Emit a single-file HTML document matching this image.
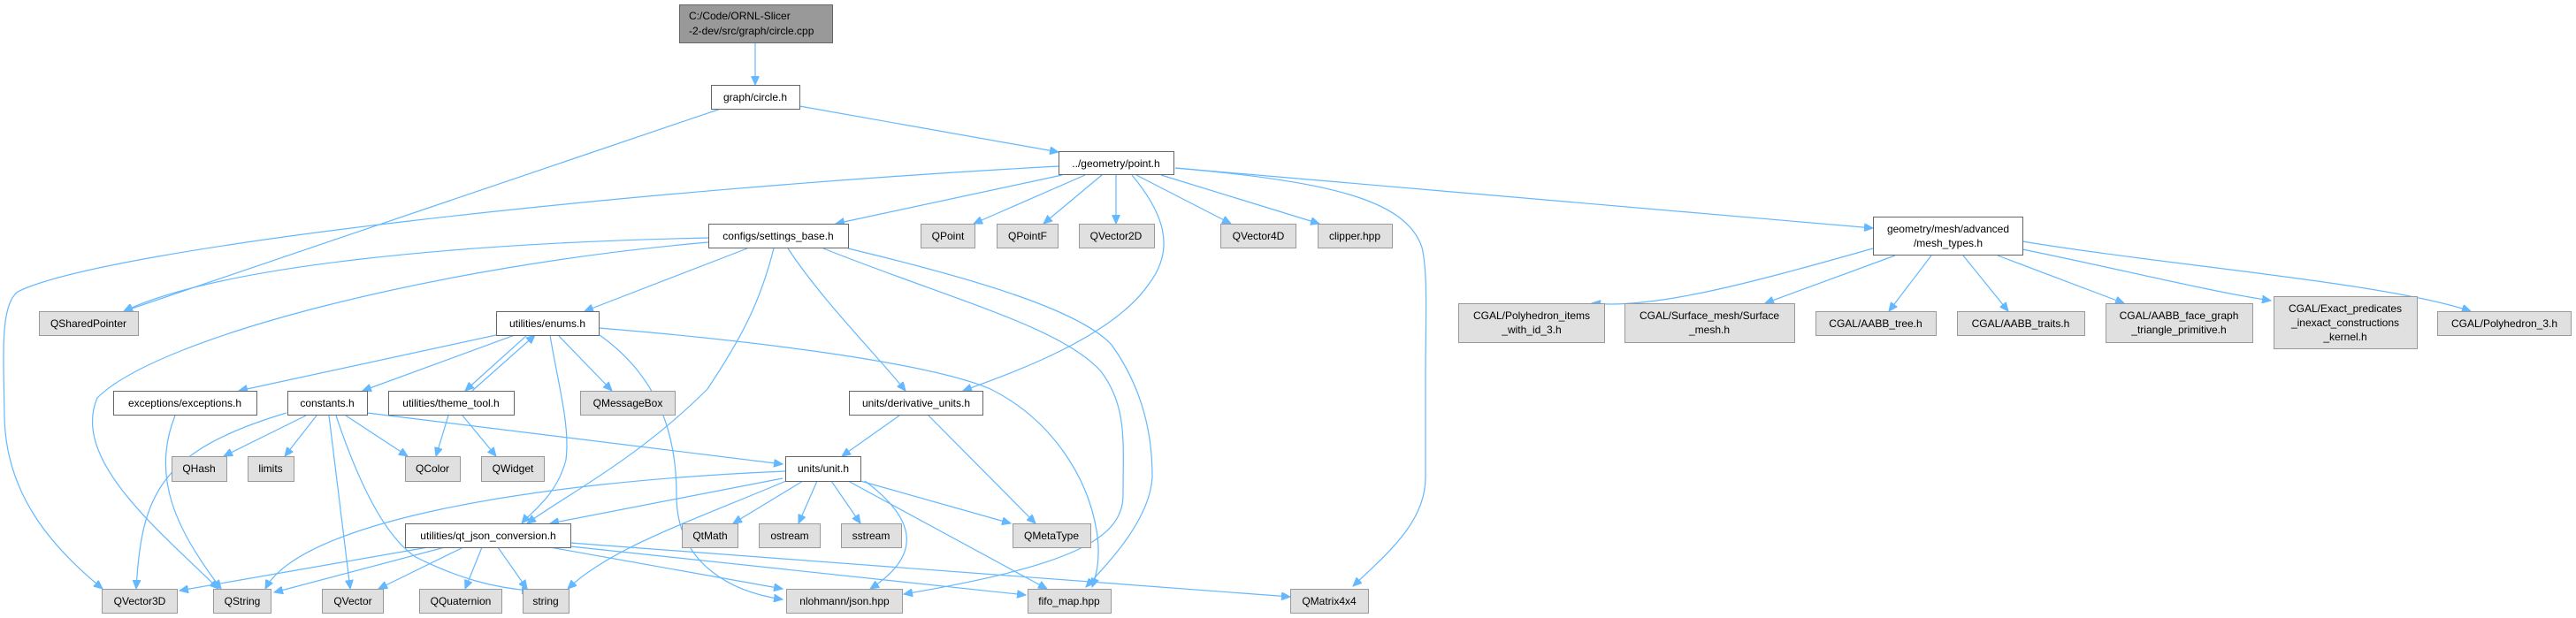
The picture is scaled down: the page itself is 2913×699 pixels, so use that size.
<!DOCTYPE html>
<html><head><meta charset="utf-8"><style>
html,body{margin:0;padding:0;background:#fff;}
svg{display:block;}
text{font-family:"Liberation Sans",Arial,sans-serif;font-size:12px;fill:#000;}
.e{fill:none;stroke:#63b8ff;stroke-width:1.2;}
.w{fill:#fff;stroke:#666;stroke-width:1;}
.g{fill:#e0e0e0;stroke:#999;stroke-width:1;}
.r{fill:#999;stroke:#666;stroke-width:1;}
</style></head><body>
<svg width="2913" height="699" viewBox="0 0 2913 699" xmlns="http://www.w3.org/2000/svg">
<defs>
<marker id="a" markerUnits="userSpaceOnUse" markerWidth="11" markerHeight="9" refX="10" refY="4.5" orient="auto">
<path d="M0,0 L10,4.5 L0,9 z" fill="#63b8ff" stroke="#63b8ff"/>
</marker>
</defs>
<g marker-end="url(#a)">
<path class="e" d="M854,48 L854,96"/>
<path class="e" d="M904,120 L1197,172"/>
<path class="e" d="M815,123 L140,352"/>
<path class="e" d="M1197,188 C700,215 120,280 20,330 C0,345 4,400 5,470 C6,560 60,620 116,666"/>
<path class="e" d="M1201,198 L945,253"/>
<path class="e" d="M1227,198 L1101,253"/>
<path class="e" d="M1246,198 L1180,253"/>
<path class="e" d="M1262,198 L1262,253"/>
<path class="e" d="M1285,198 L1392,253"/>
<path class="e" d="M1313,198 L1492,253"/>
<path class="e" d="M1329,190 L2118,258"/>
<path class="e" d="M1329,190 C1500,205 1590,225 1608,280 C1615,310 1612,360 1612,430 L1612,540 C1612,590 1570,625 1530,663"/>
<path class="e" d="M1280,198 C1315,240 1330,280 1300,320 C1260,380 1150,420 1089,442"/>
<path class="e" d="M801,269 C520,275 250,300 140,352"/>
<path class="e" d="M801,274 C500,300 180,380 110,450 C80,520 180,600 247,666"/>
<path class="e" d="M845,281 L661,352"/>
<path class="e" d="M875,281 C860,340 840,380 800,440 C720,520 640,560 596,592"/>
<path class="e" d="M891,281 C930,340 990,400 1024,442"/>
<path class="e" d="M931,281 C1080,340 1200,370 1245,420 C1275,460 1270,500 1270,560 C1270,610 1210,640 1022,672"/>
<path class="e" d="M959,281 C1100,315 1220,350 1257,390 C1300,450 1303,510 1303,540 C1300,590 1250,640 1228,664"/>
<path class="e" d="M561,379 L270,442"/>
<path class="e" d="M582,379 L410,442"/>
<path class="e" d="M596,379 L526,442"/>
<path class="e" d="M534,442 L605,379"/>
<path class="e" d="M631,379 L692,442"/>
<path class="e" d="M622,379 C630,430 645,480 640,520 C630,560 600,580 590,592"/>
<path class="e" d="M678,379 C750,430 765,500 765,560 C765,640 830,670 885,678"/>
<path class="e" d="M677,371 C850,385 1050,410 1120,440 C1190,475 1230,540 1240,600 C1245,630 1240,650 1235,664"/>
<path class="e" d="M198,470 C170,540 200,600 250,666"/>
<path class="e" d="M324,467 C180,510 160,560 154,666"/>
<path class="e" d="M346,470 L253,516"/>
<path class="e" d="M358,470 L322,516"/>
<path class="e" d="M372,470 L396,666"/>
<path class="e" d="M380,470 C410,560 440,610 470,630 C520,655 560,665 600,668"/>
<path class="e" d="M391,470 L461,516"/>
<path class="e" d="M415,467 L885,525"/>
<path class="e" d="M507,470 L493,516"/>
<path class="e" d="M523,470 L561,516"/>
<path class="e" d="M1017,470 L952,516"/>
<path class="e" d="M1050,470 L1171,592"/>
<path class="e" d="M888,533 C600,545 340,590 300,666"/>
<path class="e" d="M885,541 L622,592"/>
<path class="e" d="M889,544 C780,590 690,620 642,666"/>
<path class="e" d="M908,544 L829,592"/>
<path class="e" d="M924,544 L903,592"/>
<path class="e" d="M940,544 L973,592"/>
<path class="e" d="M978,544 C1040,590 1040,630 984,666"/>
<path class="e" d="M959,544 L1184,666"/>
<path class="e" d="M973,544 L1143,592"/>
<path class="e" d="M484,619 L203,668"/>
<path class="e" d="M503,619 L310,670"/>
<path class="e" d="M524,619 L428,666"/>
<path class="e" d="M545,619 L526,666"/>
<path class="e" d="M563,619 L596,666"/>
<path class="e" d="M622,619 L885,666"/>
<path class="e" d="M645,618 L1160,673"/>
<path class="e" d="M645,614 L1459,675"/>
<path class="e" d="M2118,281 C1980,320 1870,350 1800,343"/>
<path class="e" d="M2143,289 L1996,343"/>
<path class="e" d="M2184,289 L2136,352"/>
<path class="e" d="M2220,289 L2271,352"/>
<path class="e" d="M2259,289 L2402,343"/>
<path class="e" d="M2287,282 C2400,305 2500,330 2568,340"/>
<path class="e" d="M2287,273 C2450,300 2700,320 2794,352"/>
</g>

<rect class="r" x="768.5" y="5.5" width="173" height="43"/>
<text x="779" y="22">C:/Code/ORNL-Slicer</text>
<text x="779" y="39">-2-dev/src/graph/circle.cpp</text>

<g text-anchor="middle">
<rect class="w" x="804.5" y="96.5" width="100" height="27"/><text x="854" y="114">graph/circle.h</text>
<rect class="w" x="1197.5" y="171.5" width="130" height="26"/><text x="1262" y="189">../geometry/point.h</text>
<rect class="w" x="801.5" y="253.5" width="158" height="27"/><text x="880" y="271">configs/settings_base.h</text>
<rect class="g" x="1041.5" y="253.5" width="61" height="27"/><text x="1072" y="271">QPoint</text>
<rect class="g" x="1127.5" y="253.5" width="69" height="27"/><text x="1162" y="271">QPointF</text>
<rect class="g" x="1220.5" y="253.5" width="85" height="27"/><text x="1262" y="271">QVector2D</text>
<rect class="g" x="1380.5" y="253.5" width="85" height="27"/><text x="1423" y="271">QVector4D</text>
<rect class="g" x="1490.5" y="253.5" width="84" height="27"/><text x="1532" y="271">clipper.hpp</text>
<rect class="w" x="2118.5" y="245.5" width="169" height="43"/><text x="2203" y="263">geometry/mesh/advanced</text><text x="2203" y="279">/mesh_types.h</text>

<rect class="g" x="44.5" y="352.5" width="112" height="27"/><text x="100" y="370">QSharedPointer</text>
<rect class="w" x="561.5" y="352.5" width="116" height="27"/><text x="619" y="370">utilities/enums.h</text>

<rect class="g" x="1649.5" y="343.5" width="165" height="44"/><text x="1732" y="361">CGAL/Polyhedron_items</text><text x="1732" y="377">_with_id_3.h</text>
<rect class="g" x="1837.5" y="343.5" width="192" height="44"/><text x="1933" y="361">CGAL/Surface_mesh/Surface</text><text x="1933" y="377">_mesh.h</text>
<rect class="g" x="2053.5" y="352.5" width="136" height="27"/><text x="2121" y="370">CGAL/AABB_tree.h</text>
<rect class="g" x="2213.5" y="352.5" width="144" height="27"/><text x="2285" y="370">CGAL/AABB_traits.h</text>
<rect class="g" x="2381.5" y="343.5" width="166" height="44"/><text x="2464" y="361">CGAL/AABB_face_graph</text><text x="2464" y="377">_triangle_primitive.h</text>
<rect class="g" x="2571.5" y="335.5" width="162" height="59"/><text x="2652" y="353">CGAL/Exact_predicates</text><text x="2652" y="369">_inexact_constructions</text><text x="2652" y="385">_kernel.h</text>
<rect class="g" x="2756.5" y="352.5" width="151" height="27"/><text x="2832" y="370">CGAL/Polyhedron_3.h</text>

<rect class="w" x="128.5" y="442.5" width="162" height="27"/><text x="209" y="460">exceptions/exceptions.h</text>
<rect class="w" x="325.5" y="442.5" width="90" height="27"/><text x="370" y="460">constants.h</text>
<rect class="w" x="439.5" y="442.5" width="142" height="27"/><text x="510" y="460">utilities/theme_tool.h</text>
<rect class="g" x="656.5" y="442.5" width="107" height="27"/><text x="710" y="460">QMessageBox</text>
<rect class="w" x="960.5" y="442.5" width="151" height="27"/><text x="1036" y="460">units/derivative_units.h</text>

<rect class="g" x="194.5" y="516.5" width="62" height="28"/><text x="225" y="534">QHash</text>
<rect class="g" x="280.5" y="516.5" width="52" height="28"/><text x="306" y="534">limits</text>
<rect class="g" x="458.5" y="516.5" width="62" height="28"/><text x="489" y="534">QColor</text>
<rect class="g" x="544.5" y="516.5" width="71" height="28"/><text x="580" y="534">QWidget</text>
<rect class="w" x="888.5" y="516.5" width="85" height="28"/><text x="931" y="534">units/unit.h</text>

<rect class="w" x="458.5" y="592.5" width="187" height="27"/><text x="552" y="610">utilities/qt_json_conversion.h</text>
<rect class="g" x="771.5" y="592.5" width="63" height="27"/><text x="803" y="610">QtMath</text>
<rect class="g" x="858.5" y="592.5" width="69" height="27"/><text x="893" y="610">ostream</text>
<rect class="g" x="951.5" y="592.5" width="68" height="27"/><text x="985" y="610">sstream</text>
<rect class="g" x="1145.5" y="592.5" width="88" height="27"/><text x="1189" y="610">QMetaType</text>

<rect class="g" x="115.5" y="666.5" width="85" height="27"/><text x="158" y="684">QVector3D</text>
<rect class="g" x="241.5" y="666.5" width="65" height="27"/><text x="274" y="684">QString</text>
<rect class="g" x="364.5" y="666.5" width="69" height="27"/><text x="399" y="684">QVector</text>
<rect class="g" x="474.5" y="666.5" width="93" height="27"/><text x="521" y="684">QQuaternion</text>
<rect class="g" x="591.5" y="666.5" width="52" height="27"/><text x="617" y="684">string</text>
<rect class="g" x="889.5" y="666.5" width="131" height="27"/><text x="955" y="684">nlohmann/json.hpp</text>
<rect class="g" x="1162.5" y="666.5" width="94" height="27"/><text x="1209" y="684">fifo_map.hpp</text>
<rect class="g" x="1459.5" y="666.5" width="88" height="27"/><text x="1503" y="684">QMatrix4x4</text>
</g>
</svg>
</body></html>
